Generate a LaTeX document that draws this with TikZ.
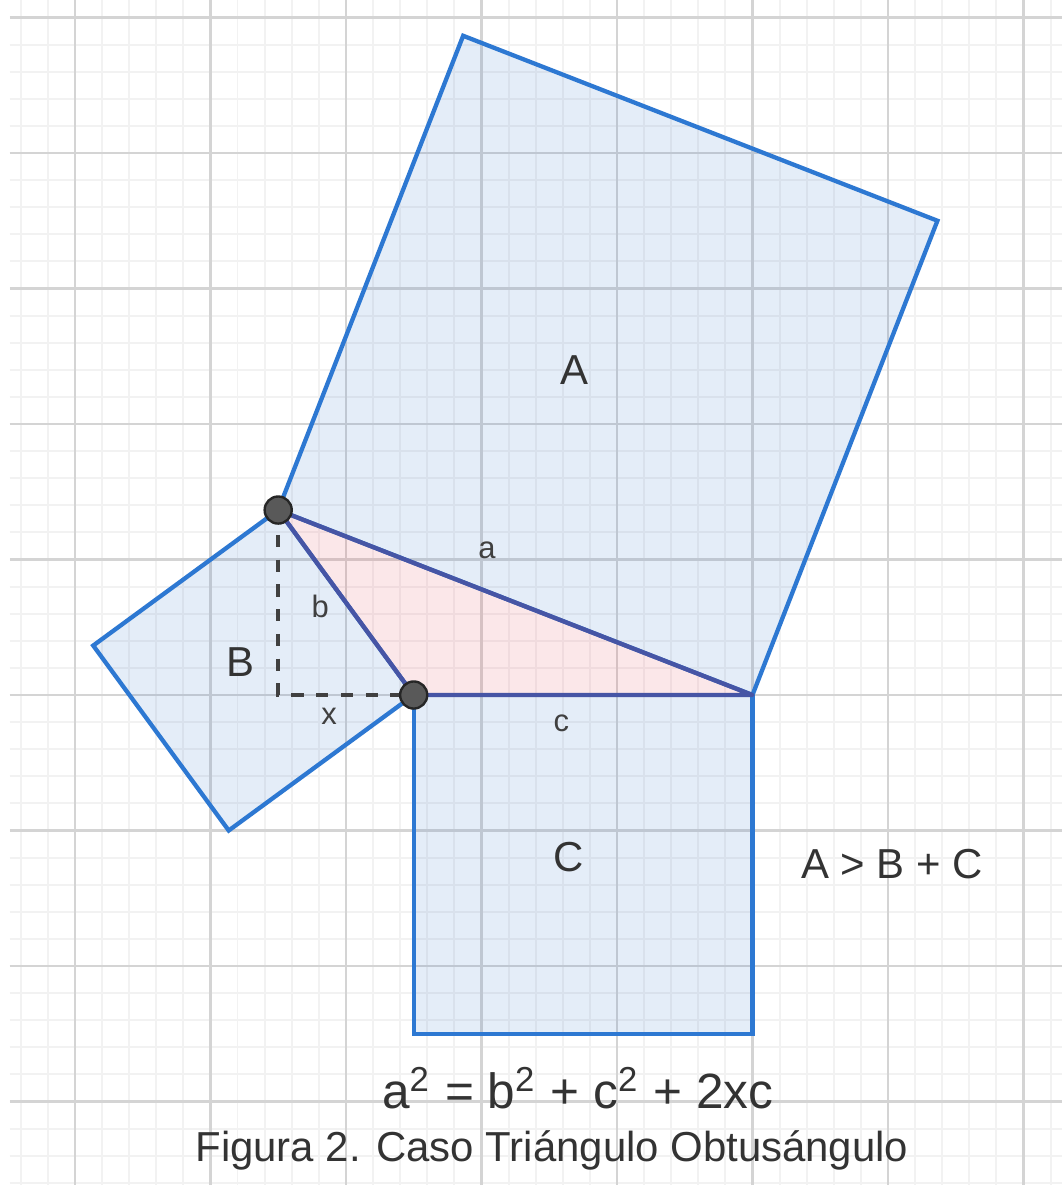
\documentclass[tikz,border=0pt]{standalone}
\usepackage{fontspec}
\setmainfont{Liberation Sans}
\usepackage{tikz}
\usetikzlibrary{calc,positioning}
\definecolor{sqblue}{RGB}{40,110,200}
\definecolor{sqedge}{RGB}{45,120,210}
\definecolor{triedge}{RGB}{70,85,165}
\definecolor{tripink}{RGB}{230,60,80}
\definecolor{gridmajor}{RGB}{212,212,212}
\definecolor{gridminor}{RGB}{242,242,242}

\begin{document}
\begin{tikzpicture}[
        sq/.style={draw=sqedge, line width=0.9pt, fill=sqblue, fill opacity=0.12, draw opacity=1, line join=miter},
        tri/.style={draw=triedge, line width=0.9pt, fill=tripink, fill opacity=0.12, draw opacity=1, line join=round},
        dashline/.style={draw=black!75, line width=0.8pt, dash pattern=on 2.6pt off 2.6pt},
        pt/.style={draw=black!85, fill=black!65, circle, inner sep=0pt, minimum size=2mm, line width=0.5pt},
        big/.style={font=\fontsize{8.8}{10}\selectfont, text=black!80},
        small/.style={font=\fontsize{6.5}{8}\selectfont, text=black!75}
    ]
        % Background and grid
        \fill[white] (-2.553,-3.616) rectangle (5.284,5.129);
        \useasboundingbox (-2.553,-3.616) rectangle (5.284,5.129);
        \draw[gridminor, line width=0.4pt] (-2.48,-3.616) grid[step=0.2] (5.284,5.129);
        \draw[gridmajor, line width=0.6pt] (-2.48,-3.616) grid[step=1] (5.284,5.129);

        % Vertices
        \coordinate (P) at (0.5,0);
        \coordinate (R) at (3,0);
        \coordinate (T) at (-0.5,1.365);
        \coordinate (F) at (-0.5,0);

        % Squares
        \draw[sq] (T) -- (R) -- ($(R)+(1.365,3.5)$) -- ($(T)+(1.365,3.5)$) -- cycle;
        \draw[sq] (P) -- (T) -- ($(T)+(-1.365,-1)$) -- ($(P)+(-1.365,-1)$) -- cycle;
        \draw[sq] (P) -- (R) -- ($(R)+(0,-2.5)$) -- ($(P)+(0,-2.5)$) -- cycle;

        % Triangle and height
        \draw[tri] (P) -- (R) -- (T) -- cycle;
        \draw[dashline] (T) -- (F) -- (P);
        \node[pt] (dotT) at (T) {};
        \node[pt] (dotP) at (P) {};

        % Labels
        \node[big] (labA) at (1.69,2.40) {A};
        \node[big] (labB) at (-0.775,0.245) {B};
        \node[big] (labC) at (1.64,-1.195) {C};
        \node[small] (sidea) at (1.04,1.07) {a};
        \node[small] (sideb) at (-0.19,0.65) {b};
        \node[small] (sidex) at (-0.125,-0.16) {x};
        \node[small] (sidec) at (1.59,-0.21) {c};
        \node[big] (ineq) at (4.03,-1.25) {A > B + C};
        \node[font=\fontsize{10.4}{12}\selectfont, text=black!80] (eq) at (1.71,-2.90)
            {a\textsuperscript{2} = b\textsuperscript{2} + c\textsuperscript{2} + 2xc};
        \node[big] (caption) at (1.52,-3.36) {Figura 2. Caso Triángulo Obtusángulo};
    \end{tikzpicture}
\end{document}
